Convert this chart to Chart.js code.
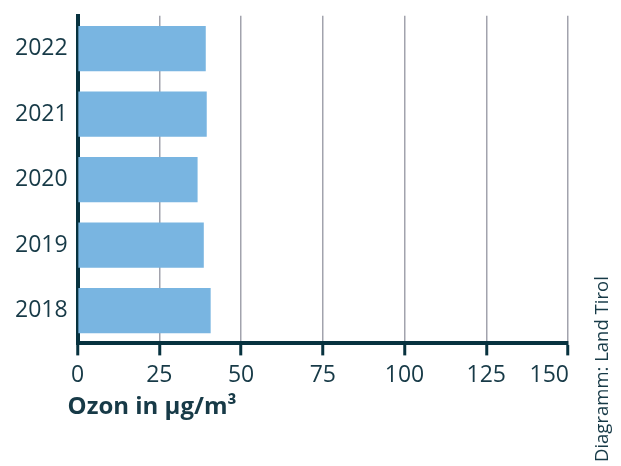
<!DOCTYPE html>
<html>
<head>
<meta charset="utf-8">
<script src="https://cdn.jsdelivr.net/npm/chart.js@4/dist/chart.umd.min.js"></script>
<style>
  html, body { margin: 0; padding: 0; background: #ffffff; }
  #wrap { width: 621px; height: 466px; position: relative; }
</style>
</head>
<body>
<div id="wrap"><canvas id="c" width="621" height="466"></canvas></div>
<script>
// Years shown top to bottom and the ozone means (µg/m³)
const years = ['2022', '2021', '2020', '2019', '2018'];
const ozone = [39.2, 39.5, 36.7, 38.6, 40.7];
const xTicks = [0, 25, 50, 75, 100, 125, 150];
const axisTitle = 'Ozon in µg/m³';
const sourceNote = 'Diagramm: Land Tirol';

const DARK = '#07323f';
const TEXT = '#173a47';
const GRID = '#a2a3ad';
const BAR = '#79b5e1';
const TICK_FONT = '23px "Open Sans"';
const X_TICK_LEN = 12;
const X_TICK_PAD = 6;

// Axis title, the last value label kept flush with the axis end,
// and the rotated source credit on the right
const extraText = {
  id: 'extraText',
  afterDraw(chart) {
    const ctx = chart.ctx;
    const area = chart.chartArea;
    const xs = chart.scales.x;
    const last = xTicks[xTicks.length - 1];
    ctx.save();
    ctx.fillStyle = TEXT;

    ctx.font = TICK_FONT;
    ctx.textAlign = 'right';
    ctx.textBaseline = 'middle';
    const labelY = xs.top + X_TICK_LEN + X_TICK_PAD + 23 * 1.2 / 2;
    ctx.fillText(String(last), xs.getPixelForValue(last) + 1, labelY);

    ctx.font = 'bold 24px "Open Sans"';
    ctx.textAlign = 'left';
    ctx.textBaseline = 'middle';
    ctx.fillText(axisTitle, area.left - 10, 407);

    ctx.translate(608, 462);
    ctx.rotate(-Math.PI / 2);
    ctx.font = '18.5px "Open Sans"';
    ctx.textAlign = 'left';
    ctx.textBaseline = 'alphabetic';
    ctx.fillText(sourceNote, 0, 0);
    ctx.restore();
  }
};

new Chart(document.getElementById('c'), {
  type: 'bar',
  data: {
    labels: years,
    datasets: [{
      data: ozone,
      backgroundColor: BAR,
      borderWidth: 0,
      barPercentage: 0.69,
      categoryPercentage: 1
    }]
  },
  options: {
    indexAxis: 'y',
    responsive: false,
    animation: false,
    layout: { padding: { left: 13, right: 53, top: 9, bottom: 71 } },
    plugins: { legend: { display: false }, tooltip: { enabled: false } },
    scales: {
      x: {
        min: 0,
        max: 150,
        afterBuildTicks(scale) { scale.ticks = xTicks.map(v => ({ value: v })); },
        border: { display: true, color: DARK, width: 4 },
        grid: {
          color: GRID,
          lineWidth: 1.5,
          drawTicks: true,
          tickLength: X_TICK_LEN,
          tickColor: DARK,
          tickWidth: 3
        },
        ticks: {
          color: TEXT,
          font: { family: 'Open Sans', size: 23 },
          padding: X_TICK_PAD,
          maxRotation: 0,
          // the end label is placed separately so it stays inside the axis
          callback: (v) => (v === xTicks[xTicks.length - 1] ? '' : String(v))
        }
      },
      y: {
        border: { display: true, color: DARK, width: 4 },
        grid: { display: false },
        ticks: {
          color: TEXT,
          font: { family: 'Open Sans', size: 23 },
          padding: 2
        }
      }
    }
  },
  plugins: [extraText]
});
</script>
</body>
</html>
